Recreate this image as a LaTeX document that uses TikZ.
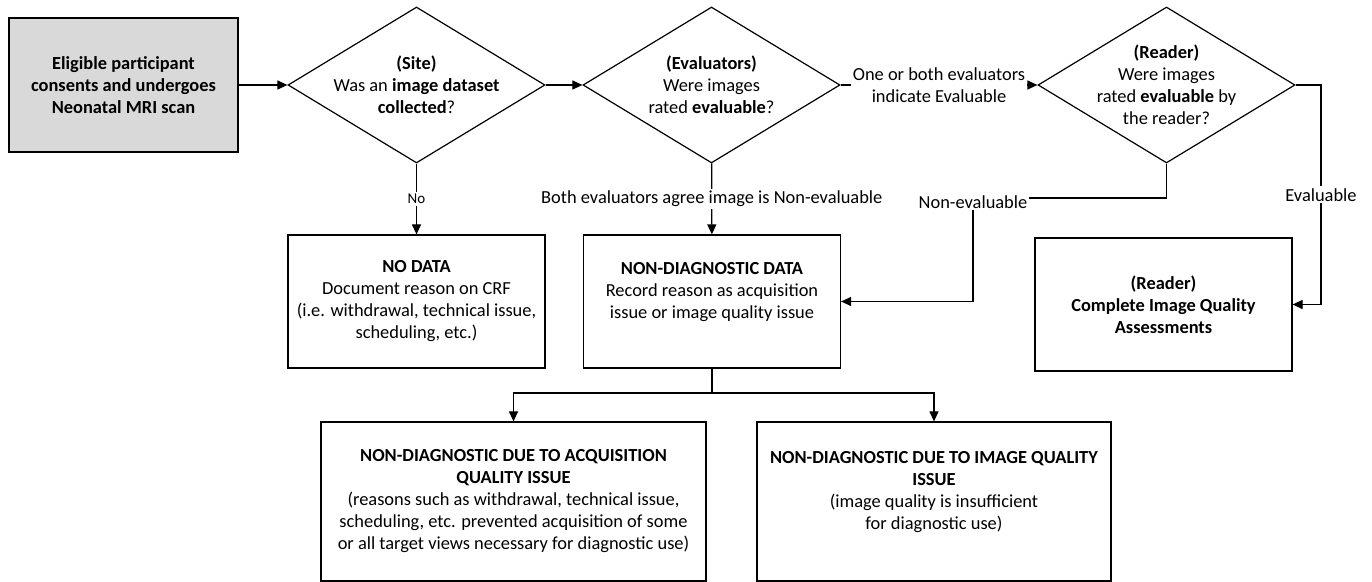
\documentclass[tikz,border=0pt]{standalone}
\usepackage{xcolor}
\usepackage{fontspec}
\setmainfont{Carlito}
\usetikzlibrary{shapes.geometric,arrows.meta}

\definecolor{startgray}{RGB}{217,217,217}

\tikzset{
    txt/.style={font=\fontsize{9.2}{11}\selectfont, align=center},
    startbox/.style={draw, fill=startgray, align=center, minimum width=114.5pt, minimum height=67pt,
        font=\fontsize{9.2}{11}\selectfont\bfseries},
    decision/.style={diamond, draw, aspect=1.65, inner sep=0pt, minimum width=128.5pt, minimum height=78pt},
    databox/.style={txt, draw, minimum width=128.5pt, minimum height=66.5pt},
    lbl/.style={txt, fill=white, inner sep=1pt},
    flow/.style={-{Triangle[length=5pt,width=4.5pt]}}
}

\begin{document}
\begin{tikzpicture}[x=0.5pt, y=-0.5pt, line width=0.6pt]
            \useasboundingbox (0,0) rectangle (1372,582);
            % top row
            \node (start) at (123.5,85) [startbox] {Eligible participant\\consents and undergoes\\Neonatal MRI scan};
            \node (site) at (416.5,85) [decision,
                label={[txt]center:\textbf{(Site)}\\Was an \textbf{image dataset}\\\textbf{collected}?}] {};
            \node (eval) at (711.5,85) [decision,
                label={[txt]center:\textbf{(Evaluators)}\\Were images\\rated \textbf{evaluable}?}] {};
            \node (reader) at (1166.5,85) [decision,
                label={[txt]center:\textbf{(Reader)}\\Were images\\rated \textbf{evaluable} by\\the reader?}] {};
            % outcome boxes
            \node (nodata) at (416.5,301.5) [databox] {\textbf{NO DATA}\\Document reason on CRF\\(i.e. withdrawal, technical issue,\\scheduling, etc.)};
            \node (nondiag) at (712,301.5) [databox] {\textbf{NON-DIAGNOSTIC DATA}\\Record reason as acquisition\\issue or image quality issue\\\mbox{}};
            \node (rdone) at (1163.5,304.5) [databox, font=\fontsize{9.2}{11}\selectfont\bfseries] {(Reader)\\Complete Image Quality\\Assessments};
            \node (acq) at (513.5,501.5) [databox, minimum width=192.5pt, minimum height=79.5pt]
                {\textbf{NON-DIAGNOSTIC DUE TO ACQUISITION}\\\textbf{QUALITY ISSUE}\\(reasons such as withdrawal, technical issue,\\scheduling, etc. prevented acquisition of some\\or all target views necessary for diagnostic use)};
            \node (iq) at (934,501.5) [databox, minimum width=177pt, minimum height=79.5pt]
                {\textbf{NON-DIAGNOSTIC DUE TO IMAGE QUALITY}\\\textbf{ISSUE}\\(image quality is insufficient\\for diagnostic use)\\\mbox{}};
            \coordinate (nebend) at (973,198);
            \coordinate (evtop) at (1321,85);
            \coordinate (evbot) at (1321,304.5);
            \coordinate (split) at (712,393);
            % connectors
            \draw[flow] (start) -- (site);
            \draw[flow] (site) -- (eval);
            \draw[flow] (eval) -- node[lbl] {One or both evaluators\\indicate Evaluable} (reader);
            \draw[flow] (site) -- node[lbl, font=\fontsize{7.5}{9}\selectfont] {No} (nodata);
            \draw[flow] (eval) -- node[lbl] {Both evaluators agree image is Non-evaluable} (nondiag);
            \draw[flow] (reader.south) |- (nebend) |- (nondiag.east);
            \node (nelbl) at (973,202) [lbl] {Non-evaluable};
            \draw[flow] (reader.east) -- (evtop) -- node[lbl] {Evaluable} (evbot) -- (rdone.east);
            \draw (nondiag.south) -- (split);
            \draw[flow] (split) -| (acq.north);
            \draw[flow] (split) -| (iq.north);
\end{tikzpicture}
\end{document}
